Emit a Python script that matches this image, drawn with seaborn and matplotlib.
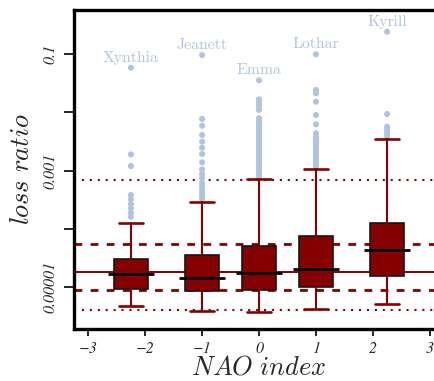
import numpy as np
import pandas as pd
import matplotlib
matplotlib.use("Agg")
import matplotlib.pyplot as plt
import seaborn as sns

# NAO index bins (box positions)
nao_positions = [-2.25, -1.0, 0.0, 1.0, 2.25]

# loss-ratio box statistics per NAO bin
whisker_low = [4.8e-6, 3.98e-6, 3.73e-6, 4.3e-6, 5.1e-6]
quartile_1 = [9.2e-6, 8.65e-6, 8.9e-6, 1.0e-5, 1.59e-5]
medians = [1.71e-5, 1.47e-5, 1.76e-5, 2.09e-5, 4.36e-5]
quartile_3 = [3.10e-5, 3.58e-5, 5.15e-5, 7.5e-5, 1.28e-4]
whisker_high = [1.28e-4, 2.90e-4, 7.1e-4, 1.08e-3, 3.49e-3]

# outlying storms per bin (besides the named ones)
outliers_m2 = [1.9e-3, 1.2e-3, 3.83e-4, 3.23e-4, 2.68e-4, 2.26e-4, 1.9e-4, 1.62e-4]
outliers_m1 = [7.69e-3, 5.9e-3, 4.09e-3, 3.14e-3, 2.48e-3, 1.93e-3, 1.39e-3,
               1.05e-3, 8.77e-4, 7.4e-4, 6.14e-4, 5.31e-4, 4.66e-4, 4.14e-4,
               3.68e-4, 3.27e-4]
outliers_0 = [0.0167, 0.0152, 0.0137, 0.0125, 0.011, 7.9e-3, 7.1e-3, 6.3e-3,
              5.6e-3, 4.98e-3, 4.42e-3, 3.93e-3, 3.49e-3, 3.1e-3, 2.75e-3,
              2.45e-3, 2.17e-3, 1.93e-3, 1.71e-3, 1.52e-3, 1.35e-3, 1.2e-3,
              1.07e-3, 9.5e-4, 8.4e-4, 7.5e-4]
outliers_p1 = [0.0242, 0.0212, 0.0152, 9.0e-3, 6.24e-3, 4.37e-3, 3.77e-3,
               3.36e-3, 2.98e-3, 2.65e-3, 2.35e-3, 2.09e-3, 1.86e-3, 1.65e-3,
               1.46e-3, 1.3e-3, 1.16e-3]
outliers_p2 = [9.35e-3, 5.68e-3, 5.18e-3, 4.69e-3, 4.25e-3, 3.82e-3]

# the most damaging storm of each bin
storm_names = ["Xynthia", "Jeanett", "Emma", "Lothar", "Kyrill"]
storm_losses = [0.0582, 0.096, 0.0354, 0.099, 0.241]

# statistics over all storms
overall_median = 1.83e-5
overall_quartiles = [9.0e-6, 5.46e-5]
overall_whiskers = [4.08e-6, 6.9e-4]

# axis ticks
x_ticks = [-3, -2, -1, 0, 1, 2, 3]
x_tick_labels = ["\u22123", "\u22122", "\u22121", "0", "1", "2", "3"]
y_ticks = [1e-5, 1e-4, 1e-3, 1e-2, 1e-1]
y_tick_labels = ["0.00001", "", "0.001", "", "0.1"]

RED = "#850000"
BLUE = "#B0C4DE"

sns.set_theme(style="ticks")
plt.rcParams["mathtext.fontset"] = "cm"

fig = plt.figure(figsize=(4.35, 3.81), dpi=100)
ax = fig.add_axes([74 / 435, 52.5 / 381, (444 - 74) / 435, 318.5 / 381])

# outliers
outlier_groups = [outliers_m2, outliers_m1, outliers_0, outliers_p1, outliers_p2]
rows = []
for pos, vals, top in zip(nao_positions, outlier_groups, storm_losses):
    for v in list(vals) + [top]:
        rows.append({"nao": pos, "loss": v})
df = pd.DataFrame(rows)
sns.scatterplot(data=df, x="nao", y="loss", color=BLUE, s=19, linewidth=0,
                edgecolor="none", ax=ax, zorder=1.5, legend=False)
ax.set_yscale("log")

# overall reference lines
ax.axhline(overall_median, color=RED, lw=1.4, zorder=1)
for q in overall_quartiles:
    ax.axhline(q, color=RED, lw=2.0, ls=(0, (2.8, 3.0)), zorder=1)
for w in overall_whiskers:
    ax.axhline(w, color=RED, lw=1.5, ls=(0, (1.0, 2.8)), zorder=1)

# boxes
stats = [dict(med=m, q1=a, q3=b, whislo=lo, whishi=hi, fliers=[])
         for m, a, b, lo, hi in zip(medians, quartile_1, quartile_3,
                                    whisker_low, whisker_high)]
ax.bxp(stats, positions=nao_positions, widths=0.6, capwidths=0.43,
       patch_artist=True, showfliers=False, manage_ticks=False,
       boxprops=dict(facecolor=RED, edgecolor="#151515", linewidth=1.2),
       whiskerprops=dict(color=RED, linewidth=1.5),
       capprops=dict(color=RED, linewidth=1.9),
       medianprops=dict(linewidth=0), zorder=3)
pos = np.array(nao_positions)
ax.hlines(medians, pos - 0.4, pos + 0.4, colors="black", linewidth=2.0, zorder=4)

# storm names
for x, v, name in zip(nao_positions, storm_losses, storm_names):
    ax.annotate(name, (x, v), xytext=(0, 4.3), textcoords="offset points",
                ha="center", va="baseline", color=BLUE, fontsize=11.3,
                fontfamily="cmr10")

ax.set_xlim(-3.25, 3.25)
ax.set_ylim(1.97e-6, 0.568)

ax.set_xticks(x_ticks)
ax.set_xticklabels(x_tick_labels, fontfamily="STIXGeneral", style="italic",
                   fontsize=11.5)
ax.set_yticks(y_ticks)
ax.set_yticklabels(y_tick_labels, fontfamily="STIXGeneral", style="italic",
                   fontsize=11.5, rotation=90, va="center")
ax.yaxis.set_minor_locator(matplotlib.ticker.NullLocator())
ax.tick_params(axis="x", length=5, width=1.2, pad=4.5, color="black")
ax.tick_params(axis="y", length=7, width=1.2, pad=5, color="black")

for side in ["left", "bottom", "top"]:
    ax.spines[side].set_linewidth(2.4)
    ax.spines[side].set_color("black")
ax.spines["right"].set_visible(False)

ax.set_xlabel(r"$\mathit{NAO\ index}$", fontsize=19, labelpad=-1)
ax.set_ylabel(r"$\mathit{loss\ ratio}$", fontsize=19, labelpad=6)

fig.savefig("out.png", dpi=100)
